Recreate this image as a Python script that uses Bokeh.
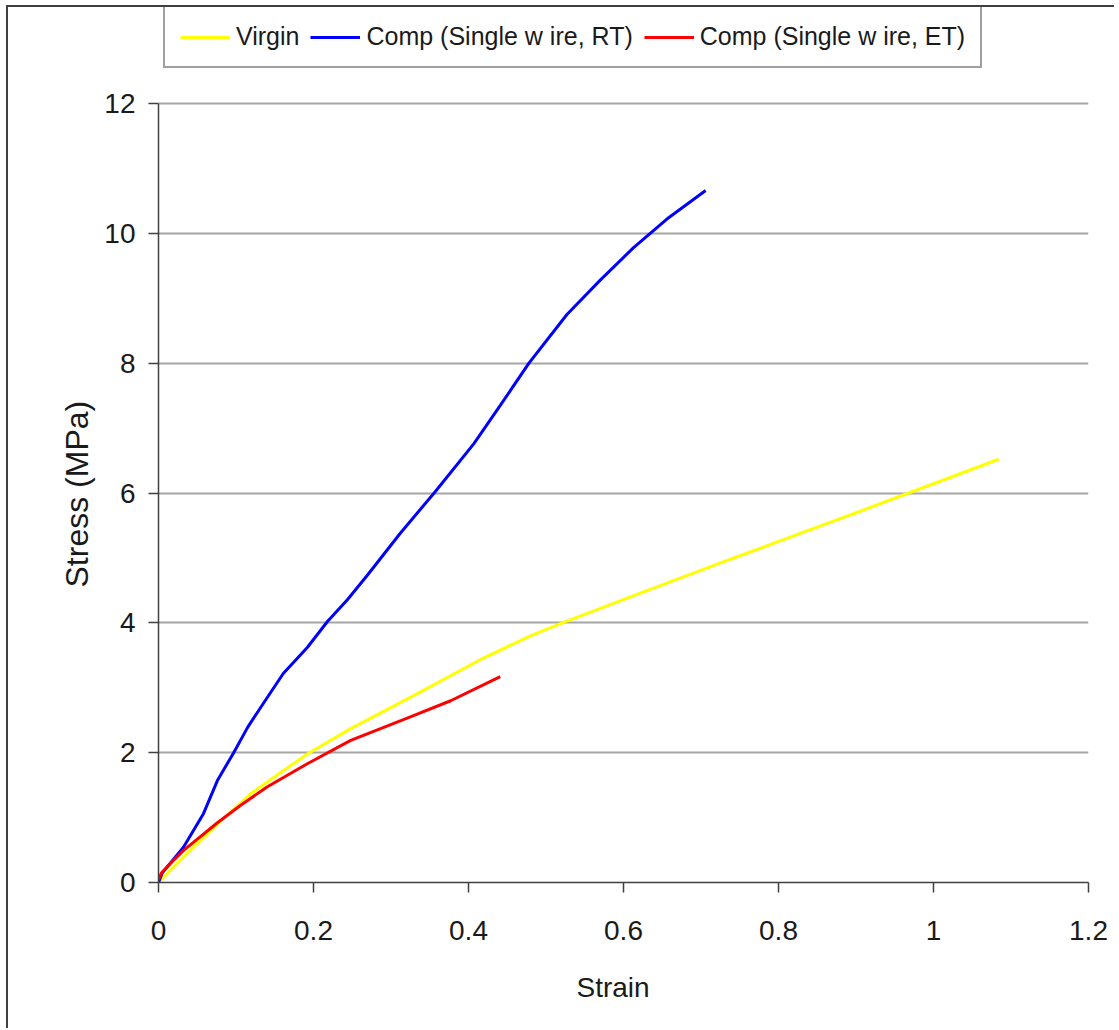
from bokeh.plotting import figure
from bokeh.models import Legend, LegendItem, Range1d, FixedTicker, Title
from bokeh.embed import file_html
from bokeh.resources import INLINE

# ---- data ----
virgin_strain = [0, 0.032, 0.076, 0.119, 0.161, 0.192, 0.248, 0.334, 0.418, 0.480,
                 0.521, 0.631, 0.738, 0.815, 0.901, 0.968, 1.084]
virgin_stress = [0, 0.39, 0.90, 1.37, 1.72, 1.98, 2.37, 2.91, 3.45, 3.80,
                 4.0, 4.50, 4.98, 5.32, 5.70, 6.0, 6.52]

rt_strain = [0, 0.005, 0.032, 0.058, 0.076, 0.097, 0.115, 0.132, 0.161, 0.192, 0.218,
             0.244, 0.270, 0.312, 0.357, 0.407, 0.441, 0.478, 0.527, 0.570, 0.613,
             0.656, 0.706]
rt_stress = [0, 0.15, 0.54, 1.06, 1.57, 2.0, 2.39, 2.70, 3.22, 3.62, 4.02,
             4.36, 4.74, 5.38, 6.02, 6.76, 7.35, 8.0, 8.75, 9.28, 9.78,
             10.22, 10.66]

et_strain = [0, 0.004, 0.015, 0.032, 0.076, 0.106, 0.140, 0.192, 0.248, 0.325, 0.377, 0.441]
et_stress = [0.05, 0.15, 0.29, 0.49, 0.92, 1.19, 1.47, 1.83, 2.19, 2.55, 2.80, 3.17]

x_ticks = [0, 0.2, 0.4, 0.6, 0.8, 1.0, 1.2]
x_tick_labels = ["0", "0.2", "0.4", "0.6", "0.8", "1", "1.2"]
y_ticks = [0, 2, 4, 6, 8, 10, 12]
y_tick_labels = ["0", "2", "4", "6", "8", "10", "12"]

series_names = ["Virgin", "Comp (Single w ire, RT)", "Comp (Single w ire, ET)"]
series_colors = ["#ffff00", "#0000ff", "#ff0000"]
x_title = "Strain"
y_title = "Stress (MPa)"

FONT = "Liberation Sans"
TXT = "#1a1a1a"

# frame extends above the 12 line so the legend can sit over it (axis/grid bounded to 0..12)
p = figure(width=1108, height=1023, output_backend="svg", toolbar_location=None,
           x_range=Range1d(0, 1.2), y_range=Range1d(0, 13.479),
           min_border_left=150, min_border_right=28,
           min_border_top=0, min_border_bottom=148)
p.styles = {"border-left": "2px solid #404040", "border-top": "2px solid #404040",
            "margin-left": "6px", "margin-top": "5px"}
p.outline_line_color = None
p.background_fill_color = "white"
p.border_fill_color = "white"

r1 = p.line(virgin_strain, virgin_stress, line_color=series_colors[0], line_width=3)
r2 = p.line(rt_strain, rt_stress, line_color=series_colors[1], line_width=3)
r3 = p.line(et_strain, et_stress, line_color=series_colors[2], line_width=3)

# axes
p.xaxis.ticker = FixedTicker(ticks=x_ticks)
p.yaxis.ticker = FixedTicker(ticks=y_ticks)
p.yaxis.bounds = (y_ticks[0], y_ticks[-1])
p.xaxis.major_label_overrides = dict(zip(x_ticks, x_tick_labels))
p.yaxis.major_label_overrides = dict(zip(y_ticks, y_tick_labels))
for ax in (p.xaxis, p.yaxis):
    ax.axis_line_color = "#404040"
    ax.axis_line_width = 1.5
    ax.major_tick_line_color = "#404040"
    ax.major_tick_line_width = 1.5
    ax.major_tick_out = 10
    ax.major_tick_in = 0
    ax.minor_tick_line_color = None
    ax.major_label_text_font = FONT
    ax.major_label_text_font_size = "28px"
    ax.major_label_text_color = TXT
p.xaxis.major_label_standoff = 28
p.yaxis.major_label_standoff = 13

# axis titles as side-panel Titles so they can be placed like the reference
ytitle = Title(text=y_title, align="left", offset=295, standoff=13,
               text_font=FONT, text_font_size="32px", text_font_style="normal",
               text_color=TXT)
p.add_layout(ytitle, "left")
xtitle = Title(text=x_title, align="left", offset=418, standoff=55,
               text_font=FONT, text_font_size="28px", text_font_style="normal",
               text_color=TXT)
p.add_layout(xtitle, "below")

p.xgrid.grid_line_color = None
p.ygrid.grid_line_color = "#a6a6a6"
p.ygrid.grid_line_width = 2

legend = Legend(items=[LegendItem(label=series_names[0], renderers=[r1]),
                       LegendItem(label=series_names[1], renderers=[r2]),
                       LegendItem(label=series_names[2], renderers=[r3])],
                orientation="horizontal", location=(5, 814),
                label_text_font=FONT, label_text_font_size="25px", label_text_color=TXT,
                glyph_width=50, glyph_height=20, label_standoff=6, spacing=11,
                padding=15, margin=0,
                border_line_color="#404040", border_line_width=2,
                background_fill_color="white", background_fill_alpha=1)
p.add_layout(legend, "center")

open("out.html", "w").write(file_html(p, INLINE))
